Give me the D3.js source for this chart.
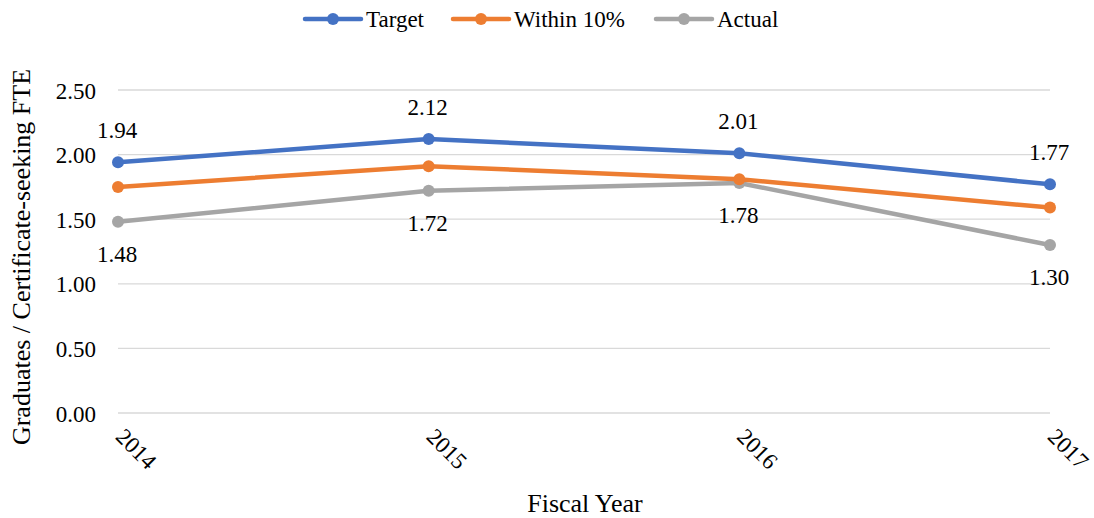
<!DOCTYPE html>
<html><head><meta charset="utf-8">
<script src="https://cdn.jsdelivr.net/npm/d3@7"></script>
<style>body{margin:0;background:#fff;}svg text{font-family:"Liberation Serif","Times New Roman","DejaVu Serif",serif !important;}</style>
</head><body>
<svg id="c" width="1094" height="518" font-family="Liberation Serif, Times New Roman, serif"></svg>
<script>
const categories = ["2014","2015","2016","2017"];
const target = [1.94, 2.12, 2.01, 1.77];
const within10 = [1.75, 1.91, 1.81, 1.59];
const actual = [1.48, 1.72, 1.78, 1.30];
const yTicks = [0, 0.5, 1.0, 1.5, 2.0, 2.5];
const seriesNames = ["Target","Within 10%","Actual"];
const colors = ["#4472C4","#ED7D31","#A5A5A5"];

const FS = 23;
const svg = d3.select("#c");
const x = d3.scalePoint().domain(categories).range([118, 1050]);
const y = d3.scaleLinear().domain([0, 2.5]).range([413, 90]);

// gridlines
svg.append("g").selectAll("line").data(yTicks).join("line")
  .attr("x1", 118).attr("x2", 1050)
  .attr("y1", d => y(d)).attr("y2", d => y(d))
  .attr("stroke", "#d9d9d9").attr("stroke-width", 1.3);

// y axis labels
const yAxis = d3.axisLeft(y).tickValues(yTicks).tickFormat(d3.format(".2f")).tickSize(0).tickPadding(0);
const ya = svg.append("g").attr("transform", "translate(96,0)").call(yAxis);
ya.attr("font-family", null).attr("font-size", null);
ya.select(".domain").remove();
ya.selectAll("text").attr("font-size", FS).attr("fill", "#000").attr("dy", "0.35em");

// x axis labels
const xAxis = d3.axisBottom(x).tickSize(0);
const xa = svg.append("g").attr("transform", "translate(0,413)").call(xAxis);
xa.attr("font-family", null).attr("font-size", null);
xa.select(".domain").remove();
xa.selectAll("text")
  .attr("font-size", FS).attr("fill", "#000")
  .attr("text-anchor", "start").attr("dy", null).attr("y", 0)
  .attr("transform", "translate(-4,25) rotate(45)");

// axis titles
svg.append("text").attr("x", 585).attr("y", 512).attr("text-anchor", "middle")
  .attr("font-size", 26).text("Fiscal Year");
svg.append("text").attr("transform", "translate(30,257) rotate(-90)").attr("text-anchor", "middle")
  .attr("font-size", 26).text("Graduates / Certificate-seeking FTE");

// series
const allSeries = [target, within10, actual];
const line = d3.line().x((d,i) => x(categories[i])).y(d => y(d));
[2,1,0].forEach(si => {
  const g = svg.append("g");
  g.append("path").datum(allSeries[si]).attr("d", line)
    .attr("fill", "none").attr("stroke", colors[si]).attr("stroke-width", 4.5).attr("stroke-linejoin", "round");
  g.selectAll("circle").data(allSeries[si]).join("circle")
    .attr("cx", (d,i) => x(categories[i])).attr("cy", d => y(d)).attr("r", 6).attr("fill", colors[si]);
});

// data labels
const fmt = d3.format(".2f");
svg.append("g").selectAll("text").data(target).join("text")
  .attr("x", (d,i) => x(categories[i]) - 1).attr("y", d => y(d) - 24)
  .attr("text-anchor", "middle").attr("font-size", FS).text(d => fmt(d));
svg.append("g").selectAll("text").data(actual).join("text")
  .attr("x", (d,i) => x(categories[i]) - 1).attr("y", d => y(d) + 40)
  .attr("text-anchor", "middle").attr("font-size", FS).text(d => fmt(d));

// legend
const legendX = [305, 453, 656];
const lg = svg.append("g");
seriesNames.forEach((n, i) => {
  const gx = legendX[i];
  lg.append("line").attr("x1", gx).attr("x2", gx + 56).attr("y1", 19).attr("y2", 19)
    .attr("stroke", colors[i]).attr("stroke-width", 4.5).attr("stroke-linecap", "round");
  lg.append("circle").attr("cx", gx + 28).attr("cy", 19).attr("r", 6).attr("fill", colors[i]);
  lg.append("text").attr("x", gx + 61).attr("y", 27).attr("font-size", FS).text(n);
});
</script>
</body></html>
